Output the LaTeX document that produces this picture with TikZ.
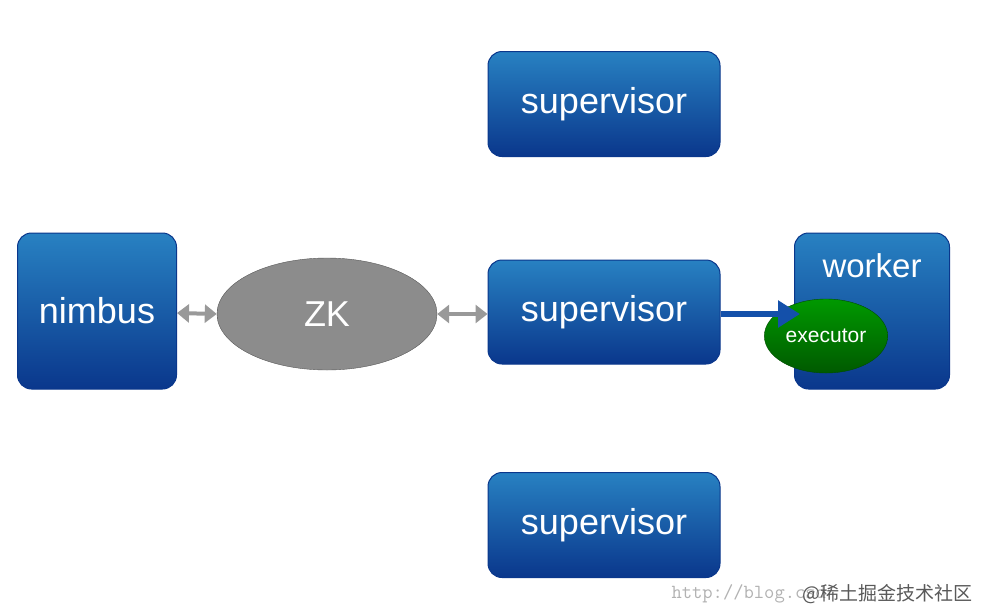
\documentclass[tikz,border=0pt]{standalone}
\usepackage{fontspec}
\setmainfont{Liberation Sans}
\newfontfamily\cjk{Noto Sans CJK SC}
\usetikzlibrary{shapes.geometric,arrows.meta}
\definecolor{bblue}{RGB}{20,80,170}
\definecolor{bdark}{RGB}{10,55,140}
\tikzset{
 box/.style={draw=bdark,line width=1pt,rounded corners=14pt,top color=bblue!80!cyan!90!white,bottom color=bdark,text=white,font=\fontsize{36}{38}\selectfont},
 conn/.style={draw=gray!80,line width=4pt,{Triangle[width=18pt,length=12pt]}-{Triangle[width=18pt,length=12pt]}},
}
\begin{document}
\begin{tikzpicture}[x=1pt,y=-1pt]
\useasboundingbox[fill=white] (0,0) rectangle (982,611);
\node[box,minimum width=232pt,minimum height=105pt] (s1) at (604,104) {supervisor};
\node[box,minimum width=232pt,minimum height=104pt] (s2) at (604,312) {supervisor};
\node[box,minimum width=232pt,minimum height=105pt] (s3) at (604,525) {supervisor};
\node[box,minimum width=159pt,minimum height=156pt] (nim) at (97,311) {nimbus};
\node[box,minimum width=155pt,minimum height=156pt] (wk) at (872,311) {};
\node[text=white,font=\fontsize{33}{35}\selectfont] (wt) at (872,266) {worker};
\node[ellipse,draw=gray!70!black,top color=gray!90,bottom color=gray!110!black,minimum width=220pt,minimum height=112pt,text=white,font=\fontsize{36}{38}\selectfont] (zk) at (327,314) {ZK};
\node[ellipse,draw=green!30!black,top color=green!60!black,bottom color=green!35!black,minimum width=110pt,minimum height=74pt,text=white,font=\fontsize{21}{23}\selectfont] (ex) at (826,336) {executor};
\draw[conn] (nim.east |- 0,313) -- (zk.west);
\draw[conn] (zk.east) -- (s2.west |- 0,314);
\draw[bblue,line width=6pt,-{Triangle[width=26pt,length=22pt]}] (s2.east |- 0,314) -- (800,314);
\node[text=gray!60,font=\ttfamily\fontsize{20}{22}\selectfont,anchor=west] (wm1) at (668,594) {http://blog.csd};
\node[text=gray!70!black,font=\cjk\fontsize{19}{21}\selectfont,anchor=east] (wm2) at (976,594) {@稀土掘金技术社区};
\end{tikzpicture}
\end{document}
